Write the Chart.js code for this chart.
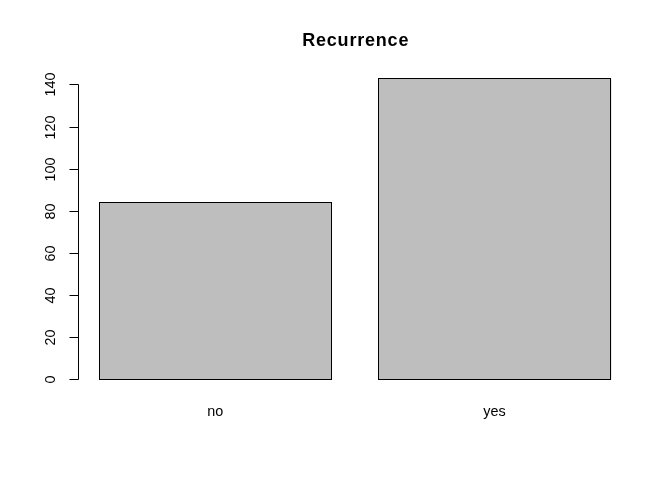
<!DOCTYPE html>
<html>
<head>
<meta charset="utf-8">
<script src="https://cdn.jsdelivr.net/npm/chart.js@4/dist/chart.umd.min.js"></script>
<style>
  html, body { margin: 0; padding: 0; background: #ffffff; }
  #wrap { width: 672px; height: 480px; }
</style>
</head>
<body>
<div id="wrap"><canvas id="c" width="672" height="480"></canvas></div>
<script>
// ---- data ----
const chartTitle = "Recurrence";
const categories = ["no", "yes"];
const counts = [84, 143];
const yTicks = [0, 20, 40, 60, 80, 100, 120, 140];

// ---- R barplot geometry (width 1, space 0.2), axis limits extended by 4% ----
const space = 0.2;
const centers = categories.map((_, i) => space + i * (1 + space) + 0.5);
const xlo = space, xhi = categories.length * (1 + space);
const xext = (xhi - xlo) * 0.04;
const ymaxData = Math.max(...counts);
const yext = ymaxData * 0.04;

const points = categories.map((c, i) => ({ x: centers[i], y: counts[i] }));

const FONT = '"Liberation Sans", Arial, sans-serif';

const crisp = v => Math.round(v - 0.5) + 0.5;

const rAxes = {
  id: 'rAxes',
  afterDatasetsDraw(chart) {
    // crisp R-style black outlines around the library's bar elements
    const ctx = chart.ctx;
    ctx.save();
    ctx.strokeStyle = '#000';
    ctx.lineWidth = 1;
    chart.getDatasetMeta(0).data.forEach(bar => {
      const p = bar.getProps(['x', 'y', 'width', 'base'], true);
      const l = crisp(p.x - p.width / 2), r = crisp(p.x + p.width / 2 - 0.6);
      const t = crisp(p.y), b = crisp(p.base);
      ctx.strokeRect(l, t, r - l, b - t);
    });
    ctx.restore();
  },
  afterDraw(chart) {
    const ctx = chart.ctx;
    const xs = chart.scales.x, ys = chart.scales.y;
    const area = chart.chartArea;
    const axX = crisp(area.left);
    ctx.save();
    ctx.strokeStyle = '#000';
    ctx.lineWidth = 1;
    // y axis line
    const y0 = crisp(ys.getPixelForValue(yTicks[0]));
    const y1 = crisp(ys.getPixelForValue(yTicks[yTicks.length - 1]));
    ctx.beginPath();
    ctx.moveTo(axX, y0);
    ctx.lineTo(axX, y1);
    ctx.stroke();
    // ticks + labels
    ctx.fillStyle = '#000';
    ctx.font = '14.4px ' + FONT;
    ctx.textAlign = 'center';
    ctx.textBaseline = 'alphabetic';
    yTicks.forEach(v => {
      const py = crisp(ys.getPixelForValue(v));
      ctx.beginPath();
      ctx.moveTo(axX - 9, py);
      ctx.lineTo(axX, py);
      ctx.stroke();
      ctx.save();
      ctx.translate(area.left - 24, py);
      ctx.rotate(-Math.PI / 2);
      ctx.fillText(String(v), 0, 0);
      ctx.restore();
    });
    // category labels
    categories.forEach((c, i) => {
      const px = xs.getPixelForValue(centers[i]);
      ctx.fillText(c, px - 0.5, area.bottom + 24.5);
    });
    // title
    ctx.font = 'bold 18px ' + FONT;
    if ('letterSpacing' in ctx) ctx.letterSpacing = '0.8px';
    ctx.fillText(chartTitle, (area.left + area.right) / 2 + 0.4, 46);
    ctx.restore();
  }
};

new Chart(document.getElementById('c'), {
  type: 'bar',
  data: {
    datasets: [{
      data: points,
      backgroundColor: '#bebebe',
      borderWidth: 0,
      categoryPercentage: 1,
      barPercentage: 1 / (1 + space)
    }]
  },
  options: {
    responsive: false,
    animation: false,
    devicePixelRatio: 1,
    layout: { padding: { left: 78.8, right: 40.2, top: 66.6, bottom: 88.5 } },
    plugins: { legend: { display: false }, tooltip: { enabled: false }, title: { display: false } },
    scales: {
      x: {
        type: 'linear', display: false, offset: false,
        min: xlo - xext, max: xhi + xext,
        afterBuildTicks: s => { s.ticks = centers.map(v => ({ value: v })); }
      },
      y: {
        type: 'linear', display: false, offset: false,
        min: -yext, max: ymaxData + yext
      }
    }
  },
  plugins: [rAxes]
});
</script>
</body>
</html>
